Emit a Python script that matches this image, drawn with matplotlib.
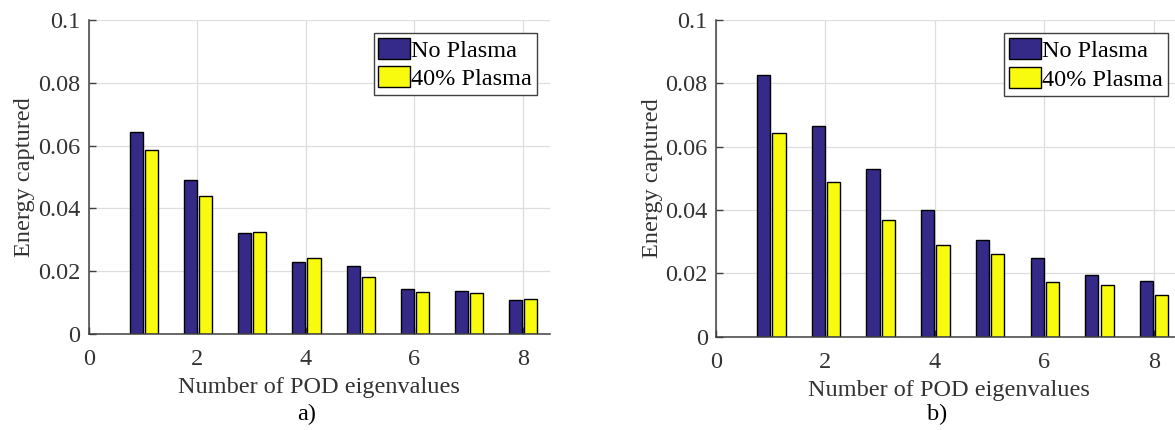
import matplotlib
matplotlib.use("Agg")
import matplotlib.pyplot as plt
import numpy as np

plt.rcParams['font.family'] = ['Liberation Serif', 'DejaVu Serif']
plt.rcParams['font.size'] = 17.5

# POD eigenvalue index
modes = [1, 2, 3, 4, 5, 6, 7, 8]

# a) energy captured per mode
energy_a_no_plasma = [0.0642, 0.0491, 0.0323, 0.0228, 0.0215, 0.0144, 0.0138, 0.0109]
energy_a_plasma40 = [0.0585, 0.0440, 0.0326, 0.0241, 0.0181, 0.0134, 0.0129, 0.0111]

# b) energy captured per mode
energy_b_no_plasma = [0.0825, 0.0664, 0.0531, 0.0399, 0.0306, 0.0250, 0.0195, 0.0177]
energy_b_plasma40 = [0.0643, 0.0489, 0.0369, 0.0288, 0.0261, 0.0172, 0.0162, 0.0131]

series_labels = ['No Plasma', '40% Plasma']
panel_tags = ['a)', 'b)']

BLUE = '#352a87'
YELLOW = '#f9fb0e'
AXIS_GRAY = '#404040'


def energy_bars(ax, no_plasma, plasma40, legend_anchor):
    x = np.array(modes, dtype=float)
    ax.bar(x - 0.13, no_plasma, width=0.24, color=BLUE, edgecolor='black',
           linewidth=1.0, label=series_labels[0])
    ax.bar(x + 0.15, plasma40, width=0.24, color=YELLOW, edgecolor='black',
           linewidth=1.0, label=series_labels[1])

    ax.set_xlim(0, 8.5)
    ax.set_ylim(0, 0.1)
    ax.set_xticks([0, 2, 4, 6, 8])
    ax.set_yticks([0, 0.02, 0.04, 0.06, 0.08, 0.1])
    ax.set_yticklabels(['0', '0.02', '0.04', '0.06', '0.08', '0.1'])

    ax.set_axisbelow(True)
    ax.grid(True, color='#dedede', linewidth=0.9)
    for side in ['top', 'right']:
        ax.spines[side].set_visible(False)
    for side in ['left', 'bottom']:
        ax.spines[side].set_color(AXIS_GRAY)
        ax.spines[side].set_linewidth(1.1)
    ax.tick_params(direction='in', length=5, width=1.0, color=AXIS_GRAY,
                   labelcolor='#333333', pad=6)
    ax.tick_params(axis='x', pad=11)

    ax.set_xlabel('Number of POD eigenvalues', color='#333333', labelpad=5)
    ax.set_ylabel('Energy captured', color='#333333', labelpad=2)

    leg = ax.legend(loc='upper right', bbox_to_anchor=legend_anchor,
                    borderaxespad=0, fancybox=False, framealpha=1,
                    edgecolor=AXIS_GRAY, handlelength=1.3, handleheight=0.95,
                    handletextpad=0.05, borderpad=0.2, labelspacing=0.2)
    leg.get_frame().set_linewidth(1.0)


fig = plt.figure(figsize=(11.75, 4.3), dpi=100)
ax_a = fig.add_axes([0.0757, 0.2233, 0.3923, 0.7302])
ax_b = fig.add_axes([0.6094, 0.2170, 0.3957, 0.7365])

energy_bars(ax_a, energy_a_no_plasma, energy_a_plasma40, (0.972, 0.959))
energy_bars(ax_b, energy_b_no_plasma, energy_b_plasma40, (0.971, 0.958))

# panel tags under each x label
fig.text(307 / 1175, 0.035, panel_tags[0], ha='center', va='center', color='black')
fig.text(937 / 1175, 0.035, panel_tags[1], ha='center', va='center', color='black')

fig.savefig('out.png', dpi=100)
